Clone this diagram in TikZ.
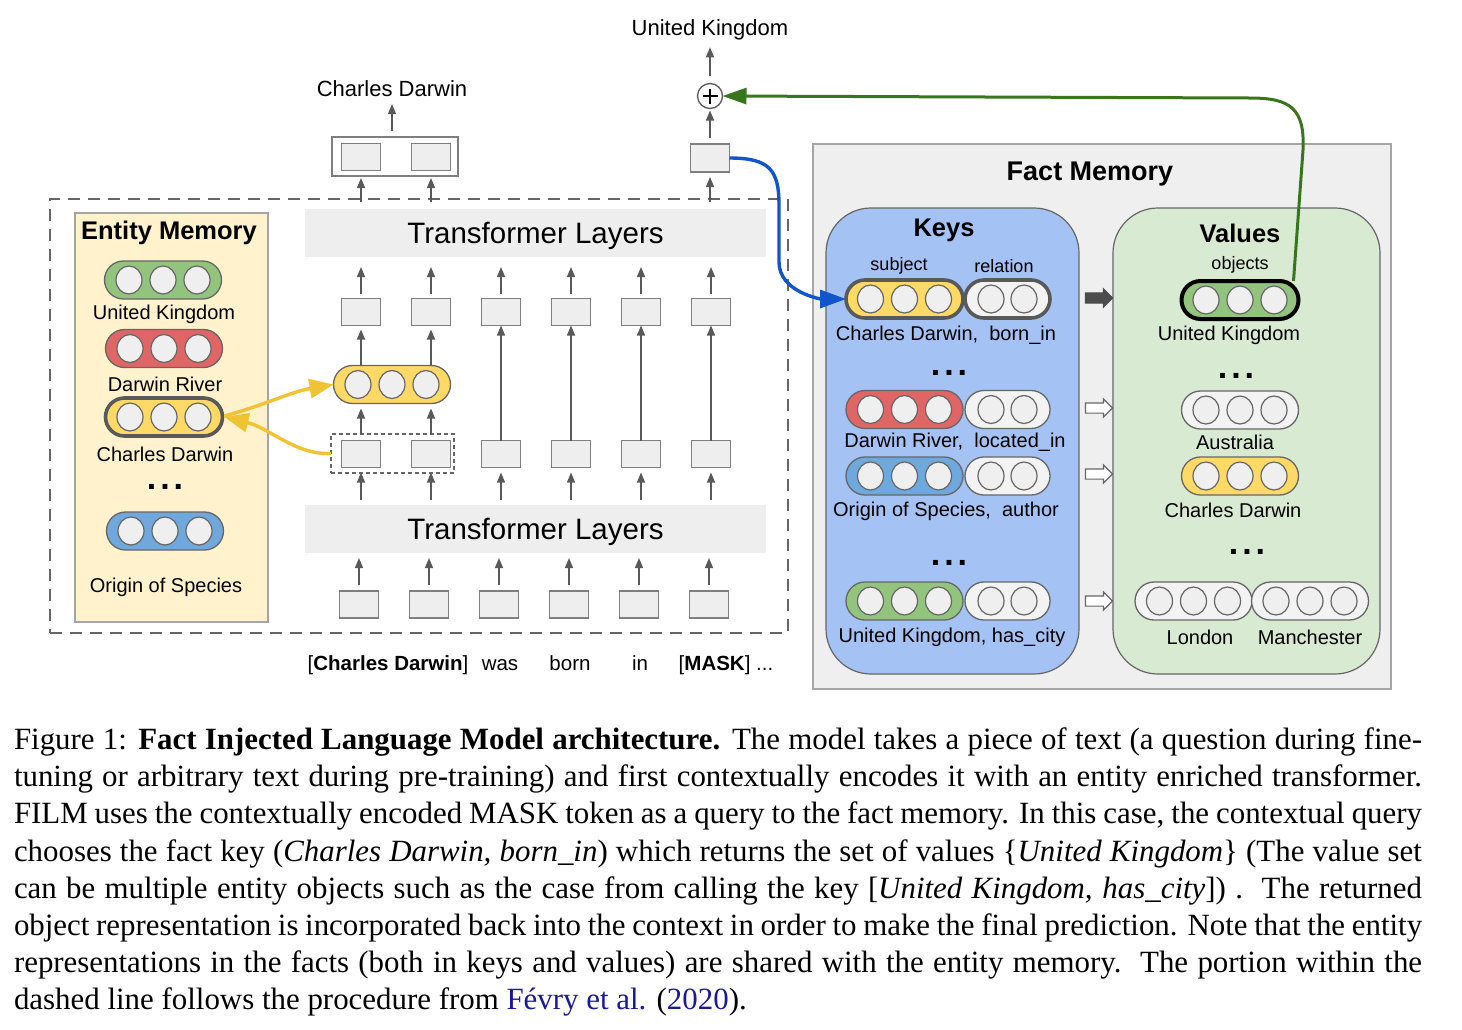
\documentclass[tikz,border=0pt]{standalone}
\usepackage{fontspec}
\setmainfont{Liberation Sans}
\newfontfamily\capfont{Liberation Serif}
\usetikzlibrary{arrows.meta,shapes.arrows,calc}
\definecolor{arrline}{HTML}{595959}
\definecolor{boxline}{HTML}{7F7F7F}
\definecolor{cellfill}{HTML}{EEEEEE}
\definecolor{pillline}{HTML}{666666}
\definecolor{circfill}{HTML}{EFEFEF}
\definecolor{pgreen}{HTML}{93C47D}
\definecolor{pred}{HTML}{E06666}
\definecolor{pyellow}{HTML}{FFD966}
\definecolor{pblue}{HTML}{6FA8DC}
\definecolor{pwhite}{HTML}{F3F3F3}
\definecolor{entfill}{HTML}{FFF2CC}
\definecolor{factfill}{HTML}{EFEFEF}
\definecolor{keyfill}{HTML}{A4C2F4}
\definecolor{valfill}{HTML}{D9EAD3}
\definecolor{blueconn}{HTML}{1155CC}
\definecolor{greenconn}{HTML}{38761D}
\definecolor{yelconn}{HTML}{F1C232}
\definecolor{citeblue}{rgb}{0.1,0.1,0.6}
\tikzset{
 every node/.style={inner sep=0pt, outer sep=0pt},
 tbox/.style={draw=boxline, fill=cellfill, line width=1.5pt, minimum width=39pt, minimum height=27pt},
 arr/.style={draw=arrline, line width=1.3pt, -{Triangle[length=10pt,width=8pt]}},
 pill/.style={draw=pillline, line width=1.3pt, rounded corners=19pt, minimum height=38pt},
 thickpill/.style={draw=arrline, line width=3.6pt},
 circ/.style={draw=pillline, line width=1.2pt, fill=circfill},
 lbl/.style={font=\fontsize{20}{24}\selectfont, yshift=-2pt},
 toklbl/.style={font=\fontsize{20.5}{24}\selectfont, anchor=base},
 outlbl/.style={font=\fontsize{22}{26}\selectfont, yshift=-2pt},
 smalllbl/.style={font=\fontsize{18}{22}\selectfont, yshift=-2pt},
 title/.style={font=\bfseries\fontsize{25.5}{30}\selectfont, yshift=-2pt},
 tlayer/.style={fill=cellfill, minimum width=461pt, minimum height=48pt, text depth=0pt, font=\fontsize{29.5}{34}\selectfont},
 dots/.style={font=\bfseries\fontsize{34}{34}\selectfont},
 kvarrow/.style={single arrow, draw=pillline, fill=white, line width=1.2pt, inner xsep=0pt, inner ysep=4.5pt, minimum height=27pt, single arrow head extend=4pt},
 conn/.style={line width=3.4pt},
}
\newcommand\PillThree[5]{%
 \node[pill, fill=#4, minimum width=117pt, #5] (#1) at (#2,#3) {};
 \foreach \d in {-34,0,34}{\draw[circ] ([xshift=\d pt]#1.center) ellipse [x radius=13pt, y radius=14pt];}}
\newcommand\PillTwo[5]{%
 \node[pill, fill=#4, minimum width=85pt, #5] (#1) at (#2,#3) {};
 \foreach \d in {-16.5,16.5}{\draw[circ] ([xshift=\d pt]#1.center) ellipse [x radius=13pt, y radius=14pt];}}
\newcommand\Dots[3]{\node[dots] (#1) at (#2,#3) {.\kern4pt.\kern4pt.};}
\begin{document}
\begin{tikzpicture}[x=1pt, y=-1pt]
\useasboundingbox (0,0) rectangle (1462,1029);

% ---------------- encoder (dashed) ----------------
\node[draw=pillline, dash pattern=on 12pt off 8pt, line width=2.2pt, minimum width=738pt, minimum height=434pt] (encoder) at (419,416) {};

% entity memory
\node[draw=boxline!70, fill=entfill, line width=1.2pt, minimum width=193pt, minimum height=409pt] (entmem) at (171.5,417.5) {};
\node[title] (enttitle) at (169,231) {Entity Memory};
\PillThree{entUK}{163}{280}{pgreen}{}
\node[lbl] (entUKl) at (164,312) {United Kingdom};
\PillThree{entDR}{164}{348.5}{pred}{}
\node[lbl] (entDRl) at (165,382) {Darwin River};
\PillThree{entCD}{164}{417}{pyellow}{thickpill}
\node[lbl] (entCDl) at (165,452) {Charles Darwin};
\Dots{entdots}{165}{487}
\PillThree{entOS}{165}{531}{pblue}{}
\node[lbl] (entOSl) at (166,585) {Origin of Species};

% transformer layers
\node[tlayer] (tlT) at (535.5,233) {Transformer Layers};
\node[tlayer] (tlB) at (535.5,529) {Transformer Layers};

\foreach \i/\x in {1/361,2/431,3/501,4/571,5/641,6/711}{
  \node[tbox] (b\i) at (\x-2,604.5) {};
  \node[tbox] (m\i) at (\x,454) {};
  \node[tbox] (t\i) at (\x,312) {};
  \draw[arr] ([yshift=6pt]b\i.north) -- ([yshift=-5pt]b\i.north |- tlB.south);
  \draw[arr] ([yshift=5pt]m\i.south |- tlB.north) -- ([yshift=-5pt]m\i.south);
  \draw[arr] ([yshift=5pt]t\i.north) -- ([yshift=-10pt]t\i.north |- tlT.south);
}
\node[draw=pillline, dash pattern=on 4pt off 3pt, line width=1.2pt, minimum width=123pt, minimum height=39pt] (mdash) at (392.5,453.5) {};
\PillThree{midCD}{392}{384.5}{pyellow}{}
\foreach \i in {1,2}{
  \draw[arr] (m\i.north |- mdash.north) -- ([yshift=-5pt]m\i.north |- midCD.south);
  \draw[arr] (m\i.north |- midCD.north) -- ([yshift=-4pt]t\i.south);
}
\foreach \i in {3,4,5,6}{
  \draw[arr] (m\i.north) -- (t\i.south);
}

% outputs
\node[draw=boxline, line width=1.5pt, minimum width=126pt, minimum height=39pt] (outgrp) at (395,156.5) {};
\node[tbox] (o1) at (361,157) {};
\node[tbox] (o2) at (431,157) {};
\node[tbox, minimum height=28pt] (mask) at (710,158) {};
\foreach \i in {1,2}{
  \draw[arr] (o\i.south |- tlT.north) ++(0,-7) -- ([yshift=-2pt]o\i.south |- outgrp.south);
}
\draw[arr] (mask.south |- tlT.north) ++(0,-7) -- ([yshift=-5pt]mask.south);
\node[outlbl] (outCD) at (392,87) {Charles Darwin};
\draw[arr] ([yshift=6pt]outCD.south |- outgrp.north) -- ([yshift=-7pt]outCD.south);
\node[circle, draw=arrline, fill=white, line width=1.3pt, minimum size=25pt] (plus) at (710,96) {};
\draw[line width=2.2pt] ([xshift=-7.5pt]plus.center) -- ([xshift=7.5pt]plus.center);
\draw[line width=2.2pt] ([yshift=-7.5pt]plus.center) -- ([yshift=7.5pt]plus.center);
\draw[arr] ([yshift=6pt]mask.north) -- ([yshift=-2pt]plus.south);
\node[outlbl] (outUK) at (710,28) {United Kingdom};
\draw[arr] ([yshift=8pt]plus.north) -- ([yshift=-7pt]plus.north |- outUK.south);

% input tokens
\node[toklbl] (tok1) at (388,670) {[\textbf{Charles Darwin}]};
\node[toklbl] (tok2) at (500,670) {was};
\node[toklbl] (tok3) at (570,670) {born};
\node[toklbl] (tok4) at (640,670) {in};
\node[toklbl] (tok5) at (726,670) {[\textbf{MASK}] ...};

% ---------------- fact memory ----------------
\node[draw=boxline!70, fill=factfill, line width=1.2pt, minimum width=578pt, minimum height=545pt] (factmem) at (1102,416.5) {};
\node[title, font=\bfseries\fontsize{27}{32}\selectfont] (facttitle) at (1090,172) {Fact Memory};
\node[draw=pillline, fill=keyfill, line width=1.2pt, rounded corners=45pt, minimum width=253pt, minimum height=466pt] (keys) at (952.5,441) {};
\node[draw=pillline, fill=valfill, line width=1.2pt, rounded corners=45pt, minimum width=267pt, minimum height=466pt] (values) at (1246.5,441) {};
\node[title] (keystitle) at (944,228) {Keys};
\node[title] (valstitle) at (1240,231) {Values};
\node[smalllbl] (subj) at (899,264) {subject};
\node[smalllbl] (rel) at (1004,264) {relation};
\node[smalllbl] (obj) at (1240,263) {objects};

\PillThree{keyCD}{904.5}{299}{pyellow}{thickpill}
\PillTwo{keyBI}{1007.5}{299}{pwhite}{thickpill}
\node[lbl] (keyCDl) at (946,333) {Charles Darwin,\ \ born\_in};
\Dots{keydotsA}{949}{373}
\PillThree{keyDR}{904.5}{409.5}{pred}{}
\PillTwo{keyLI}{1007.5}{409.5}{pwhite}{}
\node[lbl] (keyDRl) at (955,440) {Darwin River,\ \ located\_in};
\PillThree{keyOS}{904.5}{476}{pblue}{}
\PillTwo{keyAU}{1007.5}{476}{pwhite}{}
\node[lbl] (keyOSl) at (946,509) {Origin of Species,\ \ author};
\Dots{keydotsB}{949}{563}
\PillThree{keyUK}{904.5}{601}{pgreen}{}
\PillTwo{keyHC}{1007.5}{601}{pwhite}{}
\node[lbl] (keyUKl) at (952,635) {United Kingdom, has\_city};

\PillThree{valUK}{1240}{300}{pgreen}{draw=black, line width=4pt}
\node[lbl] (valUKl) at (1229,333) {United Kingdom};
\Dots{valdotsA}{1236}{376}
\PillThree{valAU}{1240}{410}{pwhite}{}
\node[lbl] (valAUl) at (1235,440) {Australia};
\PillThree{valCD}{1240}{476}{pyellow}{}
\node[lbl] (valCDl) at (1233,508) {Charles Darwin};
\Dots{valdotsB}{1247}{552}
\PillThree{valLO}{1193.5}{601}{pwhite}{}
\PillThree{valMA}{1310}{601}{pwhite}{}
\node[lbl] (valLOl) at (1200,635) {London};
\node[lbl] (valMAl) at (1310,635) {Manchester};

\node[kvarrow, fill=arrline!85!black, draw=arrline!85!black] (kv1) at (1096.5,298) {};
\node[kvarrow] (kv2) at (1096.5,408) {};
\node[kvarrow] (kv3) at (1096.5,474) {};
\node[kvarrow] (kv4) at (1096.5,601) {};

% ---------------- connectors ----------------
\draw[conn, draw=blueconn, -{Triangle[length=26pt,width=18pt]}] (mask.east) .. controls +(40,0) and +(0,-35) .. (779,205) -- (779,262) .. controls +(0,30) and +(-25,0) .. (keyCD.west);
\draw[conn, draw=greenconn, line width=3pt, -{Triangle[length=24pt,width=16pt]}] ([xshift=-5pt]valUK.north east) -- (1303,150) .. controls (1305,108) and (1290,98) .. (1250,98) -- (plus.east);
\draw[conn, draw=yelconn, -{Triangle[length=24pt,width=19pt]}] (mdash.west) .. controls (295,455) and (270,428) .. ([xshift=2pt]entCD.east);
\draw[conn, draw=yelconn, -{Triangle[length=24pt,width=19pt]}] ([xshift=2pt,yshift=1pt]entCD.east) .. controls (265,405) and (290,392) .. (midCD.west);

% ---------------- caption ----------------
\node[anchor=north west] (caption) at (14,728) {\vbox{\capfont\fontsize{30.9}{37.1}\selectfont\hsize=1408pt
\spaceskip=0.25em plus 0.4em minus 0.12em
\hbox to\hsize{Figure 1: \textbf{Fact Injected Language Model architecture.} The model takes a piece of text (a question during fine-}
\hbox to\hsize{tuning or arbitrary text during pre-training) and first contextually encodes it with an entity enriched transformer.}
\hbox to\hsize{FILM uses the contextually encoded MASK token as a query to the fact memory. In this case, the contextual query}
\hbox to\hsize{chooses the fact key (\textit{Charles Darwin, born\_in}) which returns the set of values \{\textit{United Kingdom}\} (The value set}
\hbox to\hsize{can be multiple entity objects such as the case from calling the key [\textit{United Kingdom, has\_city}]) .\ \ The returned}
\hbox to\hsize{object representation is incorporated back into the context in order to make the final prediction. Note that the entity}
\hbox to\hsize{representations in the facts (both in keys and values) are shared with the entity memory.\ \ The portion within the}
\hbox{dashed line follows the procedure from \textcolor{citeblue}{Févry et al.} (\textcolor{citeblue}{2020}).}}};
\end{tikzpicture}
\end{document}
